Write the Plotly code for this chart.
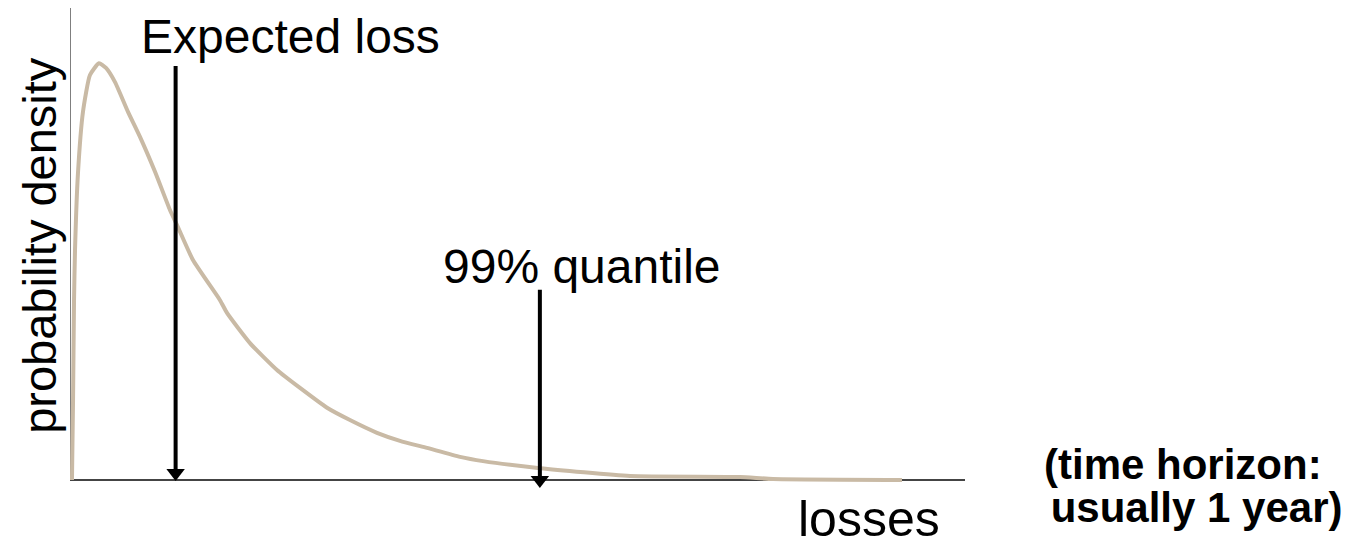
import plotly.graph_objects as go

# loss distribution curve (arbitrary units: losses 0-100, density 0-100)
losses = [0.22, 0.34, 0.45, 0.56, 0.89, 1.45, 2.23, 3.24, 4.02, 5.03, 6.48, 7.82,
          9.50, 11.17, 11.96, 13.74, 16.76, 17.54, 20.11, 23.13, 25.70, 28.72,
          31.28, 34.30, 36.87, 39.89, 43.58, 46.15, 52.51, 62.57, 74.86, 78.55, 92.96]
density = [0.0, 16.9, 38.1, 48.7, 65.0, 78.0, 85.8, 88.3, 87.3, 84.3, 78.0, 72.7,
           65.3, 57.2, 54.0, 46.6, 38.1, 35.4, 29.0, 23.3, 19.5, 15.3,
           12.7, 10.0, 8.3, 6.8, 4.9, 4.0, 2.5, 0.85, 0.64, 0.21, 0.0]

# marker arrows
arrow_labels = ["Expected loss", "99% quantile"]
arrow_x = [11.8, 52.5]
arrow_top = [87.7, 40.3]
arrow_tip = [-0.2, -1.7]
label_x = [24.6, 57.2]
label_y = [93.9, 45.3]

FONT = "Liberation Sans, Arial, sans-serif"

# page has an 8px body margin: axes on screen span x 70..965, y 8..480
W, H = 1355, 546
PX_Y = 472 / 100.0        # pixels per density unit
BELOW = 12                # extra pixels of plot area below the baseline
Y_MIN = -BELOW / PX_Y
HEAD = 16                 # triangle marker size

fig = go.Figure()
fig.add_trace(go.Scatter(x=losses, y=density, mode="lines",
                         line=dict(color="#c9baa5", width=4, shape="spline", smoothing=0.5),
                         hoverinfo="skip"))

for i in range(len(arrow_x)):
    fig.add_trace(go.Scatter(x=[arrow_x[i], arrow_x[i]], y=[arrow_top[i], arrow_tip[i] + 1.5],
                             mode="lines", line=dict(color="black", width=4),
                             hoverinfo="skip"))
    head_center = arrow_tip[i] + (HEAD / 2) / PX_Y
    fig.add_trace(go.Scatter(x=[arrow_x[i]], y=[head_center], mode="markers",
                             marker=dict(symbol="triangle-down", size=HEAD, color="black",
                                         line=dict(width=0)),
                             hoverinfo="skip", cliponaxis=False))
    fig.add_annotation(x=label_x[i], y=label_y[i], xref="x", yref="y",
                       text=arrow_labels[i], showarrow=False,
                       xanchor="center", yanchor="middle",
                       font=dict(family=FONT, size=48, color="black"))

# axis lines (baseline and vertical axis)
fig.add_shape(type="line", xref="x", yref="y", x0=0, x1=100, y0=0, y1=0,
              line=dict(color="#444444", width=2), layer="below")
fig.add_shape(type="line", xref="x", yref="y", x0=0, x1=0, y0=0, y1=100,
              line=dict(color="black", width=1), layer="below")

fig.add_annotation(x=-0.035, y=0.510, xref="paper", yref="paper", text="probability density",
                   textangle=-90, showarrow=False, xanchor="center", yanchor="middle",
                   font=dict(family=FONT, size=47, color="black"))
fig.add_annotation(x=0.893, y=-0.056, xref="paper", yref="paper", text="losses",
                   showarrow=False, xanchor="center", yanchor="middle",
                   font=dict(family=FONT, size=50, color="black"))
fig.add_annotation(x=1.086, y=0.056, xref="paper", yref="paper", text="<b>(time horizon:</b>",
                   showarrow=False, xanchor="left", yanchor="middle",
                   font=dict(family=FONT, size=42, color="black"))
fig.add_annotation(x=1.080, y=-0.031, xref="paper", yref="paper",
                   text="<b>\u00a0usually 1 year)</b>",
                   showarrow=False, xanchor="left", yanchor="middle",
                   font=dict(family=FONT, size=42, color="black"))

fig.update_layout(
    width=W, height=H,
    margin=dict(l=62, r=W - 957, t=0, b=H - (472 + BELOW)),
    plot_bgcolor="white", paper_bgcolor="white",
    showlegend=False,
    xaxis=dict(range=[0, 100], showgrid=False, zeroline=False, showticklabels=False,
               ticks="", showline=False, fixedrange=True),
    yaxis=dict(range=[Y_MIN, 100], showgrid=False, zeroline=False, showticklabels=False,
               ticks="", showline=False, fixedrange=True),
)

fig.write_html("out.html")
